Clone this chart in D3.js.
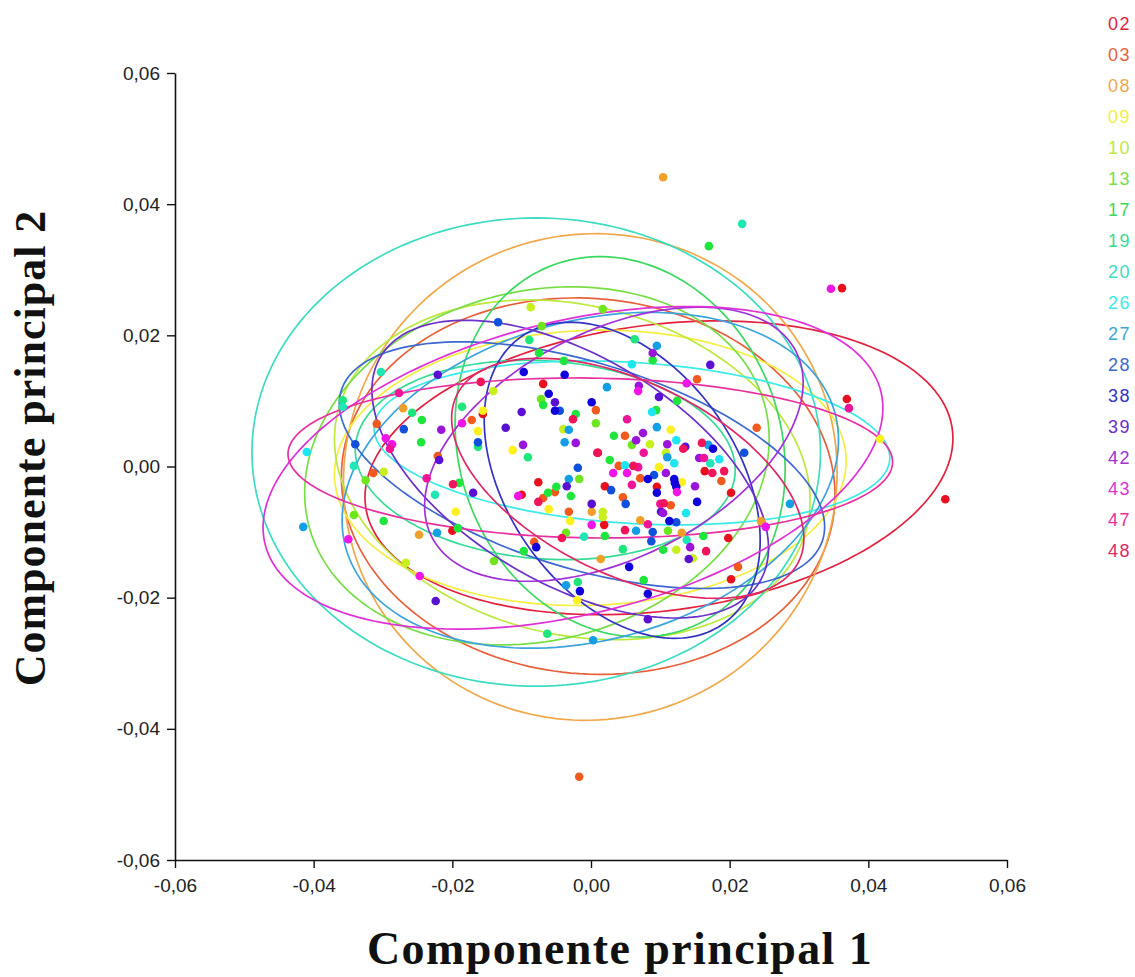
<!DOCTYPE html>
<html><head><meta charset="utf-8">
<script src="https://cdn.jsdelivr.net/npm/d3@7/dist/d3.min.js"></script>
<style>html,body{margin:0;padding:0;background:#fff}svg{display:block}</style></head>
<body><svg id="c" width="1135" height="977"></svg>
<script>
// All scores are in thousandths of a component unit.
const groups = ["02","03","08","09","10","13","17","19","20","26","27","28","38","39","42","43","47","48"];
const tickValues = [-0.06,-0.04,-0.02,0,0.02,0.04,0.06];
const xTitle = "Componente principal 1";
const yTitle = "Componente principal 2";

// Ellipse per group: centre, half-extents, correlation
const ellipseCx  = [9.8,-0.4,-0.1,-0.1,-2.7,-7.8,4.2,-6.6,-7.9,5.9,-0.1,-1.3,4.5,-3.0,3.3,-2.6,-0.1,5.3];
const ellipseCy  = [-0.2,-3.0,-1.6,-0.2,-0.5,0.1,3.0,1.0,2.2,3.6,-2.1,0.2,-2.1,-0.4,3.4,-0.2,1.3,-1.8];
const ellipseXr  = [42.4,35.6,35.6,36.9,34.3,33.5,23.8,27.4,41.0,37.2,35.8,35.0,19.9,28.6,27.3,44.7,43.6,25.4];
const ellipseYr  = [22.4,28.7,37.1,21.0,25.9,27.3,29.0,15.2,35.7,12.5,25.6,18.8,24.1,22.7,20.9,24.6,12.2,18.3];
const ellipseRho = [0.2,-0.05,0.02,0.05,-0.18,0.15,-0.12,-0.1,0,-0.18,0.24,-0.5,-0.38,-0.53,0.45,0.37,-0.05,-0.5];

const p02=[[-6.9,12.6],[-15.6,8.0],[-7.6,-2.4],[-10.0,-4.3],[-20.0,-9.8],[2.0,-3.0],[9.5,-3.1],[20.2,-4.0],[51.1,-5.0],[1.9,-8.9],[19.8,-10.9],[20.2,-17.2],[36.2,27.2],[36.9,10.3],[1.0,2.1],[16.4,-0.7]];
const p03=[[-17.2,7.1],[0.7,8.6],[-30.9,6.5],[-22.1,1.6],[-31.4,-1.0],[-5.2,-3.9],[-6.9,-4.8],[-3.2,-6.9],[-8.2,-11.5],[-1.7,-47.3],[4.6,-4.7],[11.5,-5.9],[21.2,-15.3],[15.3,13.3],[23.9,5.9],[4.9,4.7],[4.0,0.1],[18.8,-2.2],[7.1,-1.8]];
const p08=[[-27.1,8.9],[0.1,-6.9],[-24.8,-10.4],[10.4,44.1],[7.1,-8.2],[13.1,-10.1],[1.4,-14.1],[24.5,-8.3]];
const p09=[[-15.6,8.5],[-16.3,5.4],[-11.3,2.5],[-19.5,-6.9],[-6.1,-6.5],[-3.0,-8.3],[-2.0,-20.4],[11.5,5.6],[41.7,4.2],[9.8,-0.1],[13.1,-2.4]];
const p10=[[-8.7,24.3],[-14.1,11.5],[-29.9,-0.8],[-4.0,5.7],[-26.7,-14.7],[1.7,-6.9],[1.7,-7.7],[12.3,-12.7],[8.5,3.4],[10.8,2.1],[14.7,-14.0]];
const p13=[[-7.1,21.4],[-7.2,10.3],[0.7,6.6],[-32.5,-2.1],[-1.7,-1.9],[-34.2,-7.4],[-3.6,-10.1],[-14.0,-14.4],[11.1,-9.8],[1.7,24.0],[5.9,3.3]];
const p17=[[-7.5,17.3],[-3.9,16.1],[-6.9,9.4],[-2.2,8.0],[-24.4,7.1],[-24.5,3.7],[-19.0,-2.5],[-5.0,-3.1],[-6.2,-4.0],[-2.9,-4.5],[-19.2,-9.4],[-29.9,-8.3],[-9.7,-12.9],[17.0,33.6],[8.9,16.2],[12.4,10.0],[9.4,8.6],[3.3,4.7],[2.7,1.0],[10.4,-12.7],[2.0,-10.6],[16.2,-10.6],[7.6,-17.3]];
const p19=[[-8.9,19.3],[-35.8,10.1],[-25.8,8.2],[-18.6,9.1],[-16.3,3.0],[-9.1,1.4],[-1.9,-17.6],[-6.3,-25.5],[4.6,-12.6],[6.3,19.4]];
const p20=[[-30.3,14.4],[-35.8,9.1],[-34.2,0.1],[-22.5,-4.3],[-1.0,-10.7],[21.8,37.0],[17.2,0.5],[13.8,-11.2]];
const p26=[[-41.0,2.2],[5.9,15.6],[8.8,8.3],[12.3,4.0],[18.5,1.1],[12.0,0.5],[4.9,0.2],[13.7,-7.1]];
const p27=[[-3.2,5.6],[-3.8,3.7],[-3.2,-1.9],[-41.5,-9.2],[-22.2,-10.1],[-3.6,-18.1],[0.3,-26.5],[9.5,18.4],[2.3,12.1],[9.5,6.0],[11.0,1.4],[16.9,3.3],[6.5,-9.8],[28.7,-5.7]];
const p28=[[-13.4,22.0],[-27.0,5.7],[-34.0,3.4],[-16.3,3.7],[-1.9,-0.2],[2.9,-3.6],[5.0,-5.7],[12.3,-8.5],[8.9,-10.0],[8.7,-11.4],[22.1,2.1],[-4.5,8.5],[9.1,-1.3]];
const p38=[[-9.7,14.4],[-6.1,11.1],[-5.2,8.5],[-3.8,14.0],[-7.9,-12.3],[-1.6,-19.0],[9.5,-4.0],[12.1,-2.5],[12.3,-3.1],[15.3,-5.4],[11.3,-8.3],[5.5,-15.3],[8.2,-19.4],[0.1,9.8],[17.6,2.7],[8.2,-1.9],[12.0,-1.9]];
const p39=[[-22.1,14.0],[-5.2,9.8],[-10.0,8.3],[-12.3,5.9],[-21.9,1.0],[-17.0,-4.0],[-3.5,-3.0],[0.1,-5.7],[-22.4,-20.5],[8.2,-23.3],[10.1,-6.9],[14.1,-14.1],[17.2,15.5],[9.8,10.6],[13.6,3.0]];
const p42=[[-21.6,5.6],[-2.2,3.6],[-9.8,3.3],[8.9,17.3],[6.9,12.3],[7.5,5.1],[6.5,4.0],[11.0,3.4],[10.8,-1.0],[15.0,-3.0],[14.3,-12.3],[10.4,-7.1],[15.6,1.3]];
const p43=[[-18.6,6.6],[-29.6,4.3],[-28.7,3.4],[-10.5,-4.5],[-35.0,-11.1],[-24.7,-16.7],[0.1,-8.9],[34.6,27.1],[13.8,12.7],[6.8,11.5],[3.2,-1.0],[5.2,-1.0],[12.4,-3.9],[25.2,-9.2]];
const p47=[[-27.7,11.2],[-29.0,2.7],[-23.7,-1.8],[5.2,7.2],[7.6,2.1],[6.8,-0.1],[5.9,-2.8],[10.0,-5.7],[37.2,8.9],[8.2,-8.8],[16.3,1.3]];
const p48=[[-15.9,12.9],[-2.6,7.2],[0.9,2.1],[-19.9,-2.7],[-7.6,-5.4],[-4.2,-10.9],[16.0,3.6],[13.3,2.7],[17.5,-1.0],[19.2,-0.7],[10.5,-5.6],[4.9,-9.7],[16.6,-12.9],[6.1,0.1]];
const pointSeries=[p02,p03,p08,p09,p10,p13,p17,p19,p20,p26,p27,p28,p38,p39,p42,p43,p47,p48];

const lineColors=["#e2213f","#e8603a","#f0a84a","#f4ee40","#bde83e","#78de46","#3cd860","#36dc96","#3cdcc0","#3ceae8","#3ca4dc","#3c68d0","#3232c4","#6a30c8","#a030d8","#e030d8","#e830a0","#e02864"];
const dotColors=["#e8101e","#f05a1c","#f0a028","#fff01e","#c8f01e","#6ee61e","#1ee63c","#1ee67d","#1ee6b4","#1ee6f0","#149ee6","#1050dc","#1000dc","#5a10d2","#9a14dc","#f014e6","#f01496","#f0145a"];

const svg=d3.select("#c");
const x=d3.scaleLinear().domain([-0.06,0.06]).range([175,1007]);
const y=d3.scaleLinear().domain([-0.06,0.06]).range([860,73]);
const loc=d3.formatLocale({decimal:",",thousands:".",grouping:[3],currency:["",""],minus:"-"});
const fmt=loc.format(".2f");
const tickFont="Liberation Sans, Arial, sans-serif";

function styleAxis(g){
  g.select(".domain").attr("stroke","#111").attr("stroke-width",1.6);
  g.selectAll(".tick line").attr("stroke","#111").attr("stroke-width",1.4);
  g.selectAll("text").attr("font-family",tickFont).attr("font-size",19).attr("fill","#222");
}
svg.append("g").attr("transform","translate(0,860)")
  .call(d3.axisBottom(x).tickValues(tickValues).tickFormat(fmt).tickSize(8).tickSizeOuter(0).tickPadding(11)).call(styleAxis);
svg.append("g").attr("transform","translate(175,0)")
  .call(d3.axisLeft(y).tickValues(tickValues).tickFormat(fmt).tickSize(8).tickSizeOuter(0).tickPadding(7)).call(styleAxis);

const angles=d3.range(0,360,2).map(d=>d*Math.PI/180);
const line=d3.line().curve(d3.curveLinearClosed);
groups.forEach((g,i)=>{
  const phi=Math.acos(ellipseRho[i]);
  const pts=angles.map(t=>[
    x((ellipseCx[i]+ellipseXr[i]*Math.cos(t))/1000),
    y((ellipseCy[i]+ellipseYr[i]*Math.cos(t-phi))/1000)]);
  svg.append("path").attr("d",line(pts)).attr("fill","none").attr("stroke",lineColors[i]).attr("stroke-width",1.7);
});
groups.forEach((g,i)=>{
  svg.append("g").selectAll("circle").data(pointSeries[i]).join("circle")
    .attr("cx",d=>x(d[0]/1000)).attr("cy",d=>y(d[1]/1000)).attr("r",4.3).attr("fill",dotColors[i]);
});
const legendY=d3.scalePoint().domain(groups).range([24,551]);
svg.append("g").selectAll("text").data(groups).join("text")
  .attr("x",1108).attr("y",d=>legendY(d)).attr("dy","0.36em").text(d=>d)
  .attr("font-family",tickFont).attr("font-size",18).attr("letter-spacing",1.5)
  .attr("fill",(d,i)=>lineColors[i]);
svg.append("text").attr("x",620).attr("y",964).attr("text-anchor","middle")
  .attr("font-family","Liberation Serif, Times New Roman, serif").attr("font-weight","bold").attr("font-size",46).attr("letter-spacing",1.4).attr("fill","#111").text(xTitle);
svg.append("text").attr("transform","translate(45,448) rotate(-90)").attr("text-anchor","middle")
  .attr("font-family","Liberation Serif, Times New Roman, serif").attr("font-weight","bold").attr("font-size",44).attr("letter-spacing",1).attr("fill","#111").text(yTitle);
</script></body></html>
